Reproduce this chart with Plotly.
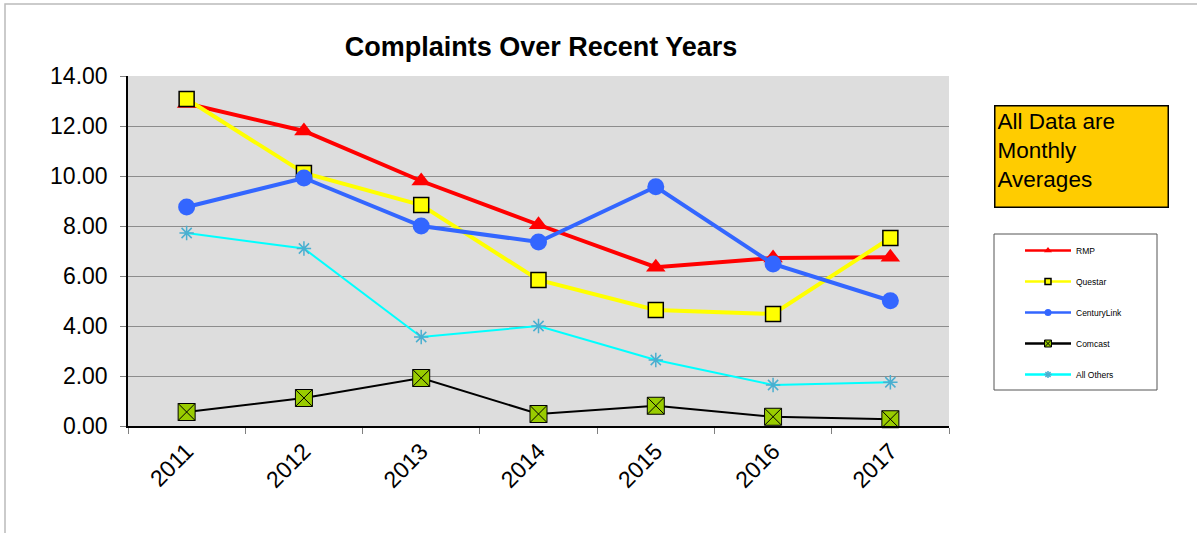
import plotly.graph_objects as go

# ---- data ----
years = ["2011", "2012", "2013", "2014", "2015", "2016", "2017"]
rmp = [12.90, 11.80, 9.80, 8.05, 6.35, 6.72, 6.75]
questar = [13.08, 10.12, 8.84, 5.84, 4.64, 4.48, 7.52]
centurylink = [8.76, 9.92, 8.00, 7.36, 9.57, 6.48, 5.01]
comcast = [0.56, 1.12, 1.92, 0.48, 0.81, 0.37, 0.27]
all_others = [7.72, 7.10, 3.56, 4.00, 2.64, 1.64, 1.75]
y_ticks = [0, 2, 4, 6, 8, 10, 12, 14]
title_text = "Complaints Over Recent Years"
note_text = "All Data are<br>Monthly<br>Averages"

# ---- layout geometry ----
W, H = 1197, 533
L, R, T, B = 128, 248, 76, 107
PW, PH = W - L - R, H - T - B
FONT = "Liberation Sans, Arial, sans-serif"


def px(x):
    return (x - L) / PW


def py(y):
    return (H - B - y) / PH


series = [
    dict(name="RMP", y=rmp, line=dict(color="#FF0000", width=4),
         marker=dict(symbol="triangle-up", size=17, color="#FF0000"),
         lmarker=dict(symbol="triangle-up", size=7, color="#FF0000")),
    dict(name="Questar", y=questar, line=dict(color="#FFFF00", width=4),
         marker=dict(symbol="square", size=15, color="#FFFF00",
                     line=dict(color="#000000", width=1.5)),
         lmarker=dict(symbol="square", size=6, color="#FFFF00",
                      line=dict(color="#000000", width=1.5))),
    dict(name="CenturyLink", y=centurylink, line=dict(color="#3366FF", width=4),
         marker=dict(symbol="circle", size=17, color="#3366FF"),
         lmarker=dict(symbol="circle", size=7, color="#3366FF")),
    dict(name="Comcast", y=comcast, line=dict(color="#000000", width=2),
         marker=dict(symbol="square-x", size=17, color="#99CC00",
                     line=dict(color="#000000", width=1)),
         lmarker=dict(symbol="square-x", size=7, color="#99CC00",
                      line=dict(color="#000000", width=1))),
    dict(name="All Others", y=all_others, line=dict(color="#00FFFF", width=2),
         marker=dict(symbol="asterisk-open", size=12, color="#4AAFD0",
                     line=dict(color="#4AAFD0", width=1.5)),
         lmarker=dict(symbol="asterisk-open", size=6, color="#4AAFD0",
                      line=dict(color="#4AAFD0", width=1.5))),
]

fig = go.Figure()
for s in series:
    fig.add_trace(go.Scatter(
        x=years, y=s["y"], name=s["name"], mode="lines+markers",
        line=s["line"], marker=s["marker"], showlegend=False,
        legendgroup=s["name"], cliponaxis=False,
    ))
    # legend proxy with small marker
    fig.add_trace(go.Scatter(
        x=[None], y=[None], name=s["name"], mode="lines+markers",
        line=dict(color=s["line"]["color"], width=2.5), marker=s["lmarker"],
        showlegend=True, legendgroup=s["name"],
    ))

fig.update_layout(
    width=W, height=H,
    margin=dict(l=L, r=R, t=T, b=B, autoexpand=False),
    paper_bgcolor="white",
    plot_bgcolor="#DDDDDD",
    font=dict(family=FONT, color="#000000"),
    title=dict(text="<b>" + title_text + "</b>", font=dict(size=27, family=FONT),
               x=px(541), xref="paper", xanchor="center",
               y=(H - 47) / H, yref="container", yanchor="middle"),
    xaxis=dict(
        type="category", range=[-0.5, 6.5], tickson="boundaries",
        ticks="outside", ticklen=6, tickcolor="#808080", tickwidth=1,
        showline=True, linecolor="#000000", linewidth=1.5,
        showgrid=False, tickangle=-45,
        tickfont=dict(size=23, family=FONT), ticklabelstandoff=1,
    ),
    yaxis=dict(
        range=[0, 14], tickvals=y_ticks, tickformat=".2f",
        ticks="outside", ticklen=6, tickcolor="#808080", tickwidth=1,
        showline=True, linecolor="#000000", linewidth=1.5,
        showgrid=True, gridcolor="#8C8C8C", gridwidth=1, zeroline=False,
        tickfont=dict(size=23, family=FONT), ticklabelstandoff=8,
    ),
    legend=dict(
        x=px(1020), y=py(236), xanchor="left", yanchor="top",
        xref="paper", yref="paper",
        bgcolor="rgba(0,0,0,0)", borderwidth=0,
        font=dict(size=8.5, family=FONT), itemwidth=46,
        tracegroupgap=12, itemclick=False, itemdoubleclick=False,
    ),
    shapes=[
        # outer chart border (left/top visible)
        dict(type="rect", xref="paper", yref="paper",
             x0=px(5), x1=px(1215), y0=py(4), y1=py(550),
             line=dict(color="#BBBBBB", width=1.5), fillcolor="rgba(0,0,0,0)",
             layer="below"),
        # legend box
        dict(type="rect", xref="paper", yref="paper",
             x0=px(994), x1=px(1157), y0=py(234), y1=py(390),
             line=dict(color="#555555", width=1), fillcolor="rgba(0,0,0,0)"),
    ],
    annotations=[
        dict(text=note_text, xref="paper", yref="paper",
             x=px(994), y=py(105), xanchor="left", yanchor="top",
             showarrow=False, align="left", valign="top",
             width=168, height=96, bgcolor="#FFCC00",
             bordercolor="#000000", borderwidth=1.5, borderpad=2,
             font=dict(size=22.5, family=FONT, color="#000000")),
    ],
)

fig.write_html("out.html", config={"displayModeBar": False})

# remove the browser's default 8px body margin so the figure sits at (0, 0)
with open("out.html", "r", encoding="utf-8") as f:
    html = f.read()
html = html.replace("<body>", '<body style="margin:0;padding:0;overflow:hidden">', 1)
with open("out.html", "w", encoding="utf-8") as f:
    f.write(html)
